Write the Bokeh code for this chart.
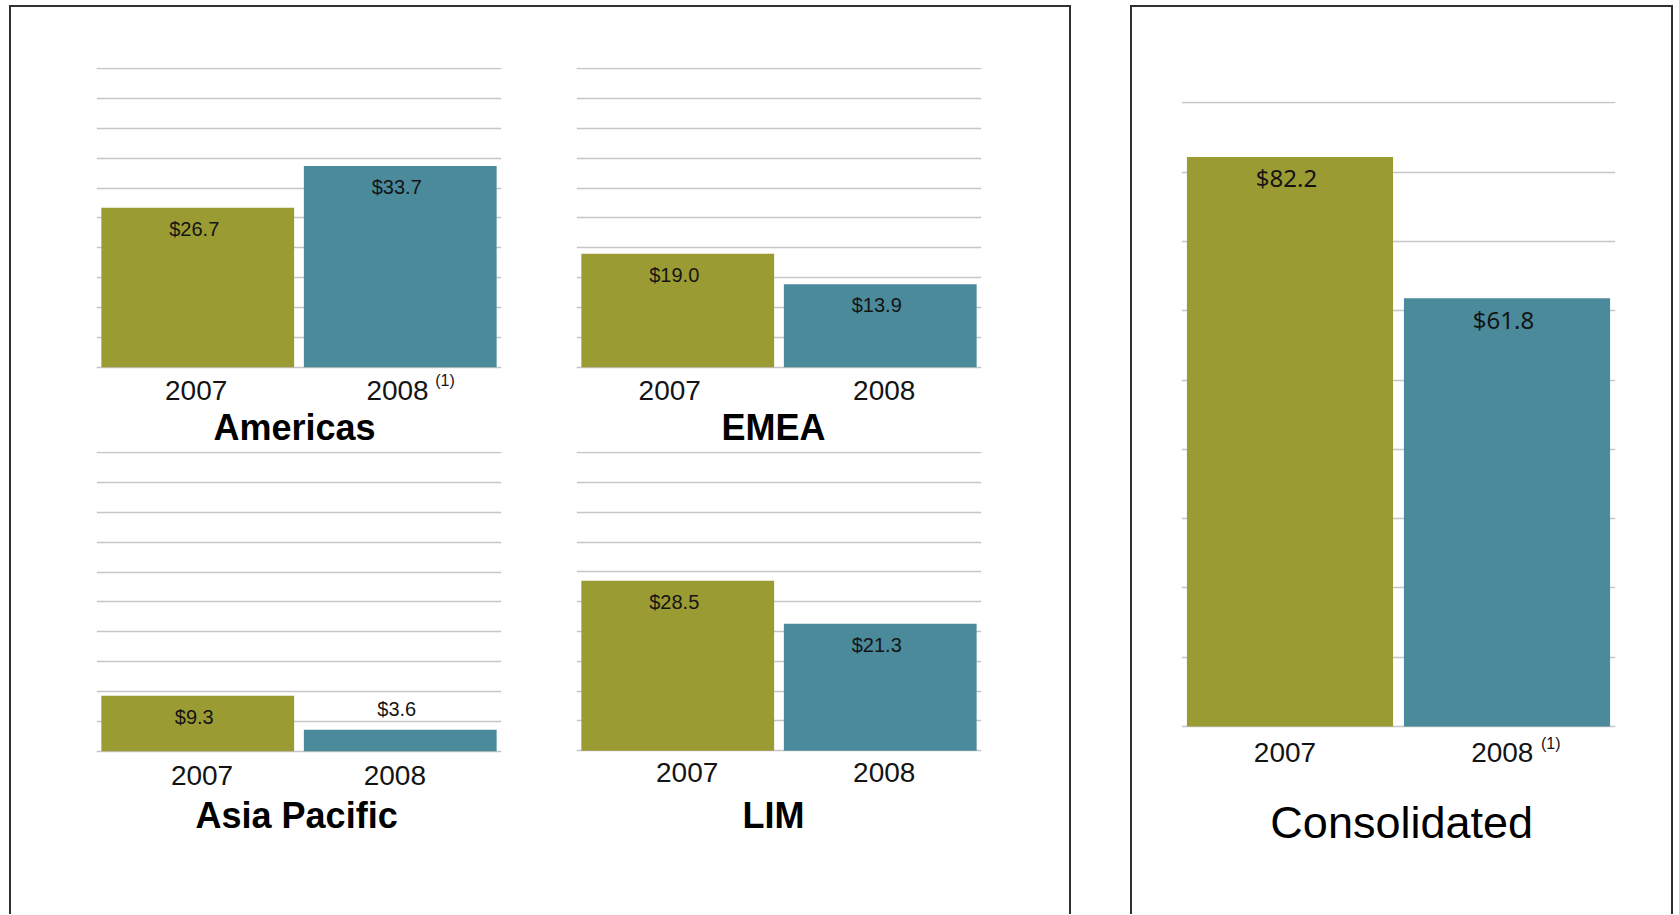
from bokeh.plotting import figure
from bokeh.models import (FactorRange, Range1d, ColumnDataSource,
                          SingleIntervalTicker, Spacer)
from bokeh.layouts import row, column
from bokeh.embed import file_html
from bokeh.resources import INLINE
from bokeh.core.properties import value

# ---------------- data ----------------
years = ["2007", "2008"]
americas = [26.7, 33.7]
emea = [19.0, 13.9]
asia_pacific = [9.3, 3.6]
lim = [28.5, 21.3]
consolidated = [82.2, 61.8]
footnoted_year = "2008"
footnote_mark = "(1)"

# ---------------- styles ----------------
BAR_COLORS = ["#9b9b34", "#4a8a9b"]
GRID_COLOR = "#c6c6c6"
TEXT_COLOR = "#141414"
FONT = "Liberation Sans"
BORDER = "2px solid #303030"


def make_panel(name, vals, *, width, height, left, right, top, ppu, ymax, interval,
               bar_width, year_dy, year_dx, title_dy, title_dx, title_size,
               title_style, value_font, value_size, value_dy,
               footnote=False, foot_dx=35, foot_dy=13):
    frame_h = height - top
    y_end = ymax + 0.2
    y_start = y_end - frame_h / ppu
    p = figure(x_range=FactorRange(factors=years, range_padding=0, factor_padding=0),
               y_range=Range1d(y_start, y_end),
               width=width, height=height,
               min_border_left=left, min_border_right=right,
               min_border_top=top, min_border_bottom=0,
               toolbar_location=None, output_backend="svg",
               x_axis_location=None, y_axis_location=None,
               outline_line_color=None,
               background_fill_color="white", border_fill_color="white")
    p.xgrid.visible = False
    p.ygrid.ticker = SingleIntervalTicker(interval=interval)
    p.ygrid.bounds = (0, ymax)
    p.ygrid.grid_line_color = GRID_COLOR
    p.ygrid.grid_line_width = 1.6

    labels = ["$%.1f" % v for v in vals]
    src = ColumnDataSource(dict(year=years, val=vals, color=BAR_COLORS, label=labels))
    p.vbar(x="year", top="val", bottom=0, width=bar_width, source=src,
           fill_color="color", line_color=None)

    # value labels: inside the bar top, or just above a bar that is too short
    inside = [v >= 0.12 * ymax for v in vals]
    def sub(keep):
        return ColumnDataSource(dict(
            year=[y for y, k in zip(years, inside) if k == keep],
            val=[v for v, k in zip(vals, inside) if k == keep],
            label=[l for l, k in zip(labels, inside) if k == keep]))
    common = dict(text="label", text_align="center", text_baseline="middle",
                  text_font=value(value_font), text_font_size=value_size,
                  text_color=TEXT_COLOR, x_offset=-3.5)
    p.text(x="year", y="val", source=sub(True), y_offset=value_dy, **common)
    p.text(x="year", y="val", source=sub(False), y_offset=-21, **common)

    # year labels under the bars
    ysrc = ColumnDataSource(dict(year=years, base=[0] * len(years), dx=year_dx))
    p.text(x="year", y="base", text="year", source=ysrc, x_offset="dx", y_offset=year_dy,
           text_align="center", text_baseline="middle", text_font=value(FONT),
           text_font_size="28px", text_color=TEXT_COLOR)

    # panel title, centred under the pair of bars
    p.text(x=[len(years) / 2], y=[0], text=[name], x_offset=title_dx, y_offset=title_dy,
           text_align="center", text_baseline="middle", text_font=value(FONT),
           text_font_size=title_size, text_font_style=value(title_style),
           text_color="#000000")

    if footnote:
        p.text(x=[footnoted_year], y=[0], text=[footnote_mark], x_offset=foot_dx,
               y_offset=foot_dy, text_align="left", text_baseline="middle",
               text_font=value(FONT), text_font_size="16px", text_color=TEXT_COLOR)
    return p


regional = dict(ppu=5.972, ymax=50, interval=5, bar_width=0.952,
                title_size="36px", title_style="bold",
                value_font=FONT, value_size="20px", value_dy=21)

fA = make_panel("Americas", americas, width=500, height=443, left=85, right=10, top=60,
                year_dy=23, year_dx=[-1.6, -2.7], title_dy=60, title_dx=-4.5,
                footnote=True, foot_dx=35, foot_dy=13, **regional)
fE = make_panel("EMEA", emea, width=558, height=443, left=65, right=88, top=60,
                year_dy=23, year_dx=[-8, 4], title_dy=60, title_dx=-5.4, **regional)
fAP = make_panel("Asia Pacific", asia_pacific, width=500, height=464, left=85, right=10, top=1,
                 year_dy=24, year_dx=[4.3, -5.4], title_dy=64, title_dx=-2.4, **regional)
fL = make_panel("LIM", lim, width=558, height=464, left=65, right=88, top=0,
                year_dy=22, year_dx=[9.4, 4], title_dy=65, title_dx=-5.5, **regional)

fC = make_panel("Consolidated", consolidated, width=539, height=907, left=49, right=56, top=94,
                ppu=6.93, ymax=90, interval=10, bar_width=0.95,
                year_dy=26, year_dx=[-5, -4.7], title_dy=96, title_dx=3.2,
                title_size="45px", title_style="normal",
                value_font="Noto Sans", value_size="24px", value_dy=21,
                footnote=True, foot_dx=34, foot_dy=17)

box_style = {"border-top": BORDER, "border-left": BORDER, "border-right": BORDER,
             "background-color": "white"}
left_box = column(row(fA, fE), row(fAP, fL), styles=box_style)
right_box = column(fC, styles=box_style)
root = column(Spacer(height=5),
              row(Spacer(width=9), left_box, Spacer(width=59), right_box))

open("out.html", "w").write(file_html(root, INLINE))
